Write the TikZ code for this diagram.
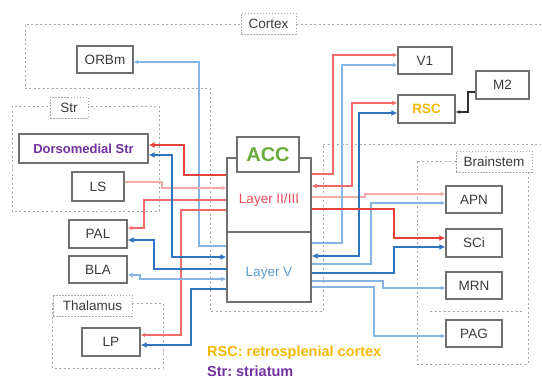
\documentclass[tikz,border=0pt]{standalone}
\usepackage{fontspec}
\setmainfont{Liberation Sans}
\usetikzlibrary{arrows.meta}
\frenchspacing
\definecolor{boxgray}{HTML}{707070}
\definecolor{dashgray}{HTML}{A8A8A8}
\definecolor{rthick}{HTML}{E8403C}
\definecolor{rmed}{HTML}{F06A6A}
\definecolor{rlight}{HTML}{F5AAAA}
\definecolor{bthick}{HTML}{2E74C0}
\definecolor{blight}{HTML}{85B5E3}
\definecolor{accgreen}{HTML}{6AAC3C}
\definecolor{rscyellow}{HTML}{F5B800}
\definecolor{strpurple}{HTML}{7030A0}
\definecolor{l2red}{HTML}{EE4B5A}
\definecolor{l5blue}{HTML}{5B9BD5}
\definecolor{txtgray}{HTML}{3A3A3A}
\begin{document}
\begin{tikzpicture}[x=1pt,y=-1pt,
  box/.style={draw=boxgray,line width=1.3pt,fill=white,inner sep=0pt,font=\fontsize{13.5}{15}\selectfont,text=txtgray},
  tag/.style={draw=dashgray,dash pattern=on 1.5pt off 1.5pt,line width=1pt,fill=white,inner sep=0pt,font=\fontsize{13.5}{15}\selectfont,text=txtgray},
  region/.style={draw=dashgray,dash pattern=on 2pt off 2.5pt,line width=1pt},
  redthick/.style={draw=rthick,line width=2.5pt,-{Latex[length=6pt,width=6pt]}},
  redmed/.style={draw=rmed,line width=1.5pt,-{Latex[length=4.5pt,width=4.5pt]}},
  redlight/.style={draw=rlight,line width=1.3pt,-{Latex[length=4.5pt,width=4.5pt]}},
  bluethick/.style={draw=bthick,line width=2.5pt,-{Latex[length=6pt,width=6pt]}},
  bluelight/.style={draw=blight,line width=1.3pt,-{Latex[length=4.5pt,width=4.5pt]}},
  blackline/.style={draw=black!80,line width=1.2pt,-{Latex[length=4pt,width=4pt]}},
  both/.style={{Latex[length=5pt,width=5pt]}-{Latex[length=5pt,width=5pt]}}
]
\useasboundingbox (0,0) rectangle (542,378);
% regions
\draw[region] (240,24) -- (25,24) -- (25,88) -- (210,88) -- (210,311) -- (323,311) -- (323,144) -- (541,144);
\draw[region] (296,24) -- (541,24);
\draw[region] (430,311) -- (522,311);
\draw[region] (12,106) rectangle (159,211);
\draw[region] (52,303) rectangle (163,368);
\draw[region] (417,161) rectangle (528,364);
% region tags
\node[tag,minimum width=55pt,minimum height=21pt] (cortex) at (268.5,23.5) {Cortex};
\node[tag,minimum width=38pt,minimum height=21pt] (str) at (69,107.5) {Str};
\node[tag,minimum width=79pt,minimum height=21pt] (thal) at (92.5,305.5) {Thalamus};
\node[tag,minimum width=76pt,minimum height=21pt] (brain) at (494,161.5) {Brainstem};
% boxes
\node[box,minimum width=56pt,minimum height=27pt] (orbm) at (105,59.5) {ORBm};
\node[box,minimum width=129pt,minimum height=29pt,text=strpurple,font=\fontsize{13}{15}\selectfont\bfseries] (dms) at (83.5,148.5) {Dorsomedial Str};
\node[box,minimum width=52pt,minimum height=29pt] (ls) at (98,186.5) {LS};
\node[box,minimum width=58pt,minimum height=28pt] (pal) at (98,234) {PAL};
\node[box,minimum width=58pt,minimum height=27pt] (bla) at (98,269.5) {BLA};
\node[box,minimum width=58pt,minimum height=28pt] (lp) at (111,342) {LP};
\node[box,minimum width=54pt,minimum height=27pt] (v1) at (425,60.5) {V1};
\node[box,minimum width=57pt,minimum height=28pt,text=rscyellow,font=\fontsize{13.5}{15}\selectfont\bfseries] (rsc) at (426.5,109) {RSC};
\node[box,minimum width=53pt,minimum height=28pt] (m2) at (502.5,85) {M2};
\node[box,minimum width=56pt,minimum height=27pt] (apn) at (474,199.5) {APN};
\node[box,minimum width=56pt,minimum height=28pt] (sci) at (474,243) {SCi};
\node[box,minimum width=56pt,minimum height=27pt] (mrn) at (474,285.5) {MRN};
\node[box,minimum width=56pt,minimum height=27pt] (pag) at (474,333.5) {PAG};
% ACC
\node[box,minimum width=84pt,minimum height=74pt,text=l2red] (l2) at (269,195) {};
\node[box,minimum width=84pt,minimum height=70pt,text=l5blue] (l5) at (269,267) {};
\node[box,minimum width=62pt,minimum height=35pt,text=accgreen,font=\fontsize{20}{22}\selectfont\bfseries] (acc) at (268,154.5) {ACC};
\node[text=l2red,font=\fontsize{13.5}{15}\selectfont,inner sep=0pt] (l2t) at (269,200) {Layer II/III};
\node[text=l5blue,font=\fontsize{13.5}{15}\selectfont,inner sep=0pt] (l5t) at (269,273) {Layer V};
% legend
\node[anchor=west,inner sep=0pt,text=rscyellow,font=\fontsize{14.5}{16}\selectfont\bfseries] (leg1) at (207,353) {RSC: retrosplenial cortex};
\node[anchor=west,inner sep=0pt,text=strpurple,font=\fontsize{14.5}{16}\selectfont\bfseries] (leg2) at (207,371) {Str: striatum};
% left connectors
\draw[bluelight] (l5.west |- 0,246) -| (199,62) -- (orbm.east |- 0,62);
\draw[redlight] (ls.east |- 0,182) -| (162,188) -- (l2.west |- 0,188);
\draw[redmed] (l2.west |- 0,200) -| (144,228) -- (pal.east |- 0,228);
\draw[redmed] (l2.west |- 0,210) -| (181,335) -- (lp.east |- 0,335);
\draw[bluethick] (l5.west |- 0,269) -| (154,240) -- (pal.east |- 0,240);
\draw[bluelight,both] (bla.east |- 0,275) -| (140,279) -- (l5.west |- 0,279);
\draw[bluethick] (l5.west |- 0,289) -| (191,345) -- (lp.east |- 0,345);
\draw[bluethick,{Latex[length=6pt,width=6pt]}-{Latex[length=6pt,width=6pt]}] (dms.east |- 0,155) -| (172,257) -- (l5.west |- 0,257);
\draw[redthick] (l2.west |- 0,175) -| (184,145) -- (dms.east |- 0,145);
% right connectors
\draw[bluelight] (l5.east |- 0,287) -| (374,336) -- (pag.west |- 0,336);
\draw[bluelight] (l5.east |- 0,281) -| (383,288) -- (mrn.west |- 0,288);
\draw[bluelight] (l5.east |- 0,264) -| (371,203) -- (apn.west |- 0,203);
\draw[redlight] (l2.east |- 0,197) -| (365,194) -- (apn.west |- 0,194);
\draw[bluelight] (l5.east |- 0,243) -| (342,65) -- (v1.west |- 0,65);
\draw[redmed] (l2.east |- 0,174) -| (333,55) -- (v1.west |- 0,55);
\draw[redmed,both] (l2.east |- 0,186) -| (352,103) -- (rsc.west |- 0,103);
\draw[bluethick,{Latex[length=6pt,width=6pt]}-{Latex[length=6pt,width=6pt]}] (l5.east |- 0,256) -| (359,113) -- (rsc.west |- 0,113);
\draw[redthick] (l2.east |- 0,209) -| (394,238) -- (sci.west |- 0,238);
\draw[bluethick] (l5.east |- 0,273) -| (394,247) -- (sci.west |- 0,247);
\draw[blackline] (m2.west |- 0,92) -| (468,112) -- (rsc.east |- 0,112);
\end{tikzpicture}
\end{document}
